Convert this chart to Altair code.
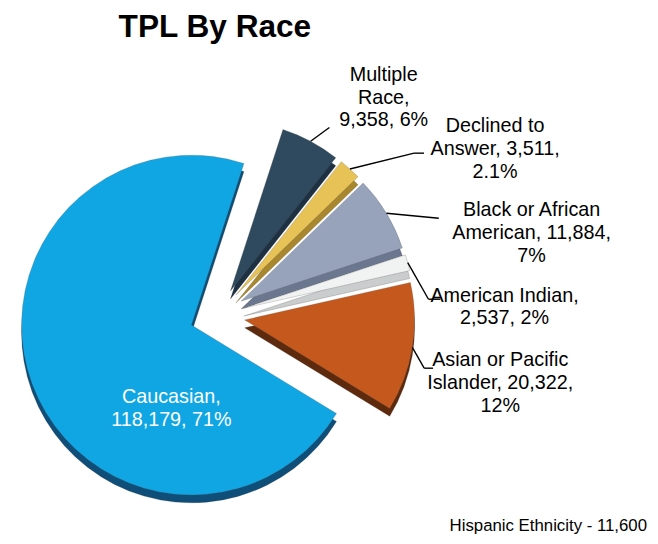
import math
import altair as alt
import pandas as pd

# ---- data ----
categories = ["Multiple Race", "Declined to Answer", "Black or African American",
              "American Indian", "Asian or Pacific Islander", "Caucasian"]
counts = [9358, 3511, 11884, 2537, 20322, 118179]
label_text = [
    "Multiple\nRace,\n9,358, 6%",
    "Declined to\nAnswer, 3,511,\n2.1%",
    "Black or African\nAmerican, 11,884,\n7%",
    "American Indian,\n2,537, 2%",
    "Asian or Pacific\nIslander, 20,322,\n12%",
    "Caucasian,\n118,179, 71%",
]
title_text = "TPL By Race"
footer_text = "Hispanic Ethnicity - 11,600"

# ---- styles ----
top_colors = ["#2F4A5E", "#E6C257", "#97A3BB", "#F1F3F3", "#C5591D", "#10A6E4"]
side_colors = ["#1E3142", "#A8872E", "#6B778E", "#C9CDCD", "#5E2A0E", "#0E4E78"]

# ---- layout (pixels, plot coordinates) ----
CX, CY = 212, 264      # pie centre
R = 172                # pie radius
EXPLODE = 28           # slice explosion distance
THICK = 8              # fake 3-D thickness
START = math.radians(18)
LINE_H = 23
# label centre offset from slice edge point, leader end offset, tail length
label_layout = {
    "Multiple Race": (74, -44, 19, -14, 0),
    "Declined to Answer": (147, -20, 65, -16, 10),
    "Black or African American": (147, 20, 53, 5, 0),
    "American Indian": (98, 45, 21, 37, 12),
    "Asian or Pacific Islander": (89, 36, 12, 21, 9),
    "Caucasian": (141, 25, 0, 0, 0),
}

df = pd.DataFrame({"category": categories, "count": counts, "label": label_text})
df["order"] = range(len(df))
lay = pd.DataFrame.from_dict(label_layout, orient="index",
                             columns=["ldx", "ldy", "kdx", "kdy", "tail"])
df = df.merge(lay, left_on="category", right_index=True)

base = alt.Chart(df).transform_window(
    cum="sum(count)", frame=[None, 0], sort=[alt.SortField("order")]
).transform_joinaggregate(
    total="sum(count)"
).transform_calculate(
    a0=f"{START} + 2*PI*(datum.cum - datum.count)/datum.total",
    a1=f"{START} + 2*PI*datum.cum/datum.total",
    nlines="length(split(datum.label, '\\n'))",
).transform_calculate(
    mid="(datum.a0 + datum.a1)/2"
).transform_calculate(
    cx=f"{CX} + {EXPLODE}*sin(datum.mid)",
    cy=f"{CY} - {EXPLODE}*cos(datum.mid)",
    ex=f"{CX} + {R + EXPLODE}*sin(datum.mid)",
    ey=f"{CY} - {R + EXPLODE}*cos(datum.mid)",
).transform_calculate(
    cy_side=f"datum.cy + {THICK}",
    lx="datum.ex + datum.ldx",
    ly=f"datum.ey + datum.ldy - (datum.nlines - 1) * {LINE_H} / 2",
    kx="datum.ex + datum.kdx",
    ky="datum.ey + datum.kdy",
).transform_calculate(
    kx2="datum.kx + datum.tail"
)

sides = base.mark_arc(radius=R, stroke="#333333", strokeWidth=0.4, strokeOpacity=0.5).encode(
    theta=alt.Theta("a0:Q", scale=None, stack=False),
    theta2="a1:Q",
    x=alt.X("cx:Q", scale=None),
    y=alt.Y("cy_side:Q", scale=None),
    color=alt.Color("category:N", scale=alt.Scale(domain=categories, range=side_colors), legend=None),
)

tops = base.mark_arc(radius=R, stroke="#555555", strokeWidth=0.5, strokeOpacity=0.5).encode(
    theta=alt.Theta("a0:Q", scale=None, stack=False),
    theta2="a1:Q",
    x=alt.X("cx:Q", scale=None),
    y=alt.Y("cy:Q", scale=None),
    color=alt.Color("category:N", scale=alt.Scale(domain=categories, range=top_colors), legend=None),
)

leaders = base.transform_filter("datum.category != 'Caucasian'").mark_rule(
    color="black", strokeWidth=1.4
).encode(
    x=alt.X("ex:Q", scale=None), y=alt.Y("ey:Q", scale=None),
    x2="kx:Q", y2="ky:Q",
)

tails = base.transform_filter("datum.tail > 0").mark_rule(
    color="black", strokeWidth=1.4
).encode(
    x=alt.X("kx:Q", scale=None), y=alt.Y("ky:Q", scale=None),
    x2="kx2:Q", y2="ky:Q",
)

labels = base.mark_text(
    font="Liberation Sans", fontSize=20, lineBreak="\n", lineHeight=LINE_H,
    align="center", baseline="middle",
).encode(
    x=alt.X("lx:Q", scale=None), y=alt.Y("ly:Q", scale=None),
    text="label:N",
    color=alt.condition("datum.category == 'Caucasian'", alt.value("white"), alt.value("black")),
)

footer = alt.Chart(pd.DataFrame({"t": [footer_text]})).mark_text(
    font="Liberation Sans", fontSize=17, align="right", baseline="alphabetic", color="black"
).encode(
    x=alt.value(647), y=alt.value(482), text="t:N"
)

chart = alt.layer(sides, tops, leaders, tails, labels, footer).resolve_scale(
    color="independent"
).properties(
    width=650, height=476,
    autosize="none",
    padding={"top": 44, "left": 0, "right": 0, "bottom": 8},
    title=alt.TitleParams(
        title_text, anchor="start", frame="group", dx=112, offset=11,
        fontSize=32, font="Liberation Sans", fontWeight="bold", color="black",
    ),
).configure_view(stroke=None)

chart.save("out.html", embed_options={"renderer": "svg", "actions": False})
